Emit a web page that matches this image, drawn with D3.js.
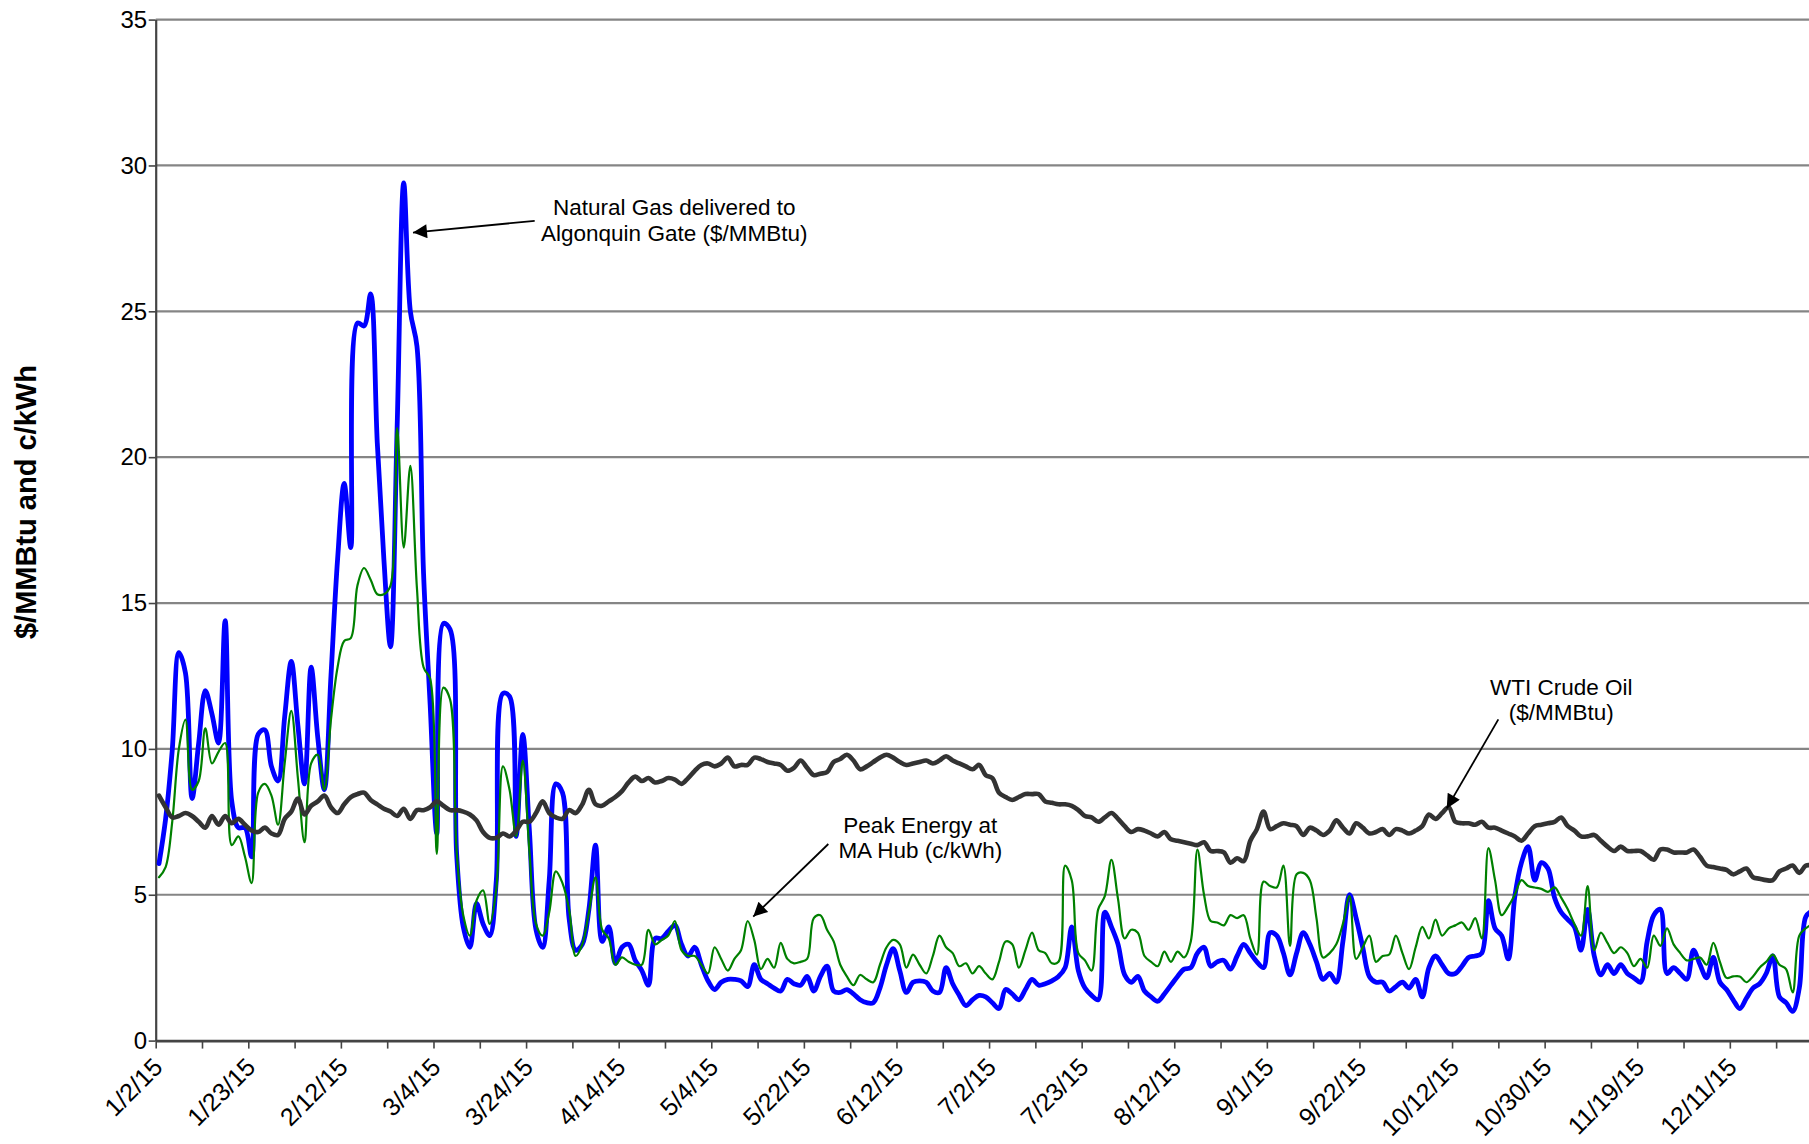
<!DOCTYPE html>
<html>
<head>
<meta charset="utf-8">
<script src="https://cdn.jsdelivr.net/npm/d3@7"></script>
<style>
  body { margin: 0; background: #fff; }
  svg { display: block; }
  text { font-family: "Liberation Sans", Arial, sans-serif; }
</style>
</head>
<body>
<div id="chart"></div>
<script>
  // Daily prices, 2015 (one value per trading day)
  const tickLabels = ['1/2/15', '1/23/15', '2/12/15', '3/4/15', '3/24/15', '4/14/15', '5/4/15', '5/22/15',
    '6/12/15', '7/2/15', '7/23/15', '8/12/15', '9/1/15', '9/22/15', '10/12/15', '10/30/15', '11/19/15', '12/11/15'];

  // Natural Gas delivered to Algonquin Gate ($/MMBtu)
  const gasPrices = [
    6.07, 7.6, 9.95, 13.3, 12.6, 8.3, 10.2, 12.0, 11.2, 10.2,
    14.4, 8.2, 7.3, 7.3, 6.3, 10.5, 10.65, 9.4, 8.9, 11.1,
    13.0, 10.8, 8.8, 12.8, 10.4, 8.6, 12.5, 16.5, 19.1, 16.9,
    24.6, 24.5, 25.6, 20.5, 16.5, 13.5, 21.0, 29.4, 25.0, 23.8,
    16.0, 11.5, 7.1, 14.3, 14.1, 6.4, 3.9, 3.2, 4.7, 4.0,
    3.6, 5.5, 11.9, 11.8, 7.0, 10.5, 7.2, 3.8, 3.2, 5.5,
    8.8, 8.5, 4.2, 3.1, 3.3, 4.5, 6.7, 3.4, 3.9, 2.65,
    3.2, 3.3, 2.75, 2.4, 1.9, 3.5, 3.5, 3.75, 3.95, 3.3,
    2.9, 3.2, 2.6, 2.05, 1.75, 2.0, 2.1, 2.1, 2.05, 1.85,
    2.6, 2.1, 1.95, 1.8, 1.7, 2.1, 1.95, 1.9, 2.2, 1.7,
    2.2, 2.55, 1.7, 1.65, 1.75, 1.6, 1.4, 1.3, 1.3, 1.8,
    2.6, 3.15, 2.4, 1.65, 2.0, 2.05, 2.0, 1.7, 1.65, 2.5,
    1.95, 1.55, 1.2, 1.4, 1.55, 1.5, 1.3, 1.1, 1.75, 1.6,
    1.4, 1.75, 2.1, 1.9, 1.95, 2.05, 2.2, 2.5, 3.9, 2.4,
    1.8, 1.55, 1.4, 4.4, 3.9, 3.3, 2.25, 2.0, 2.2, 1.7,
    1.5, 1.35, 1.6, 1.9, 2.2, 2.45, 2.5, 3.0, 3.2, 2.55,
    2.7, 2.75, 2.45, 2.9, 3.3, 3.0, 2.7, 2.5, 3.7, 3.6,
    3.0, 2.25, 3.0, 3.7, 3.3, 2.7, 2.1, 2.3, 2.0, 3.4,
    5.0, 4.2, 3.2, 2.2, 2.0, 2.0, 1.7, 1.85, 2.0, 1.8,
    2.1, 1.5, 2.5, 2.9, 2.6, 2.3, 2.3, 2.55, 2.85, 2.9,
    3.0, 4.8, 3.85, 3.6, 2.8, 4.95, 6.1, 6.65, 5.5, 6.1,
    5.9, 4.9, 4.4, 4.15, 3.9, 3.1, 4.5, 2.9, 2.25, 2.6,
    2.3, 2.6, 2.3, 2.15, 2.0, 3.4, 4.3, 4.5, 2.3, 2.5,
    2.3, 2.1, 3.1, 2.6, 2.15, 2.85, 2.0, 1.75, 1.4, 1.1,
    1.45, 1.8, 1.95, 2.3, 2.9, 1.5, 1.3, 1.0, 1.8, 4.25,
    4.45
  ];

  // Peak Energy at MA Hub (c/kWh)
  const peakEnergy = [
    5.6, 5.95, 7.5, 10.0, 11.0, 8.6, 8.9, 10.7, 9.5, 9.9,
    10.2, 6.7, 7.0, 6.3, 5.4, 8.5, 8.8, 8.4, 7.4, 9.5,
    11.3, 9.0, 6.8, 9.5, 9.8, 8.6, 11.0, 12.8, 13.7, 13.8,
    15.6, 16.2, 15.8, 15.3, 15.3, 15.6, 21.0, 16.9, 19.7, 15.5,
    12.8, 12.4, 6.4, 12.1, 11.7, 6.5, 4.3, 3.6, 4.8, 5.15,
    4.0, 5.2, 9.4, 8.6, 7.0, 9.6, 6.5, 4.0, 3.6, 4.4,
    5.8, 5.4, 4.5, 2.9, 3.3, 4.4, 5.6, 3.8, 3.5, 2.6,
    2.85, 2.7, 2.6, 2.6, 3.8, 3.3, 3.45, 3.6, 4.1, 3.1,
    2.9, 2.9, 2.6, 2.3, 3.2, 2.8, 2.4, 2.8, 3.1, 4.1,
    3.45, 2.45, 2.8, 2.5, 3.35, 2.8, 2.65, 2.7, 2.8, 4.2,
    4.3, 3.8, 3.4, 2.6, 2.2, 1.9, 2.25, 2.1, 2.0, 2.6,
    3.2, 3.45, 3.3, 2.5, 2.95, 2.6, 2.3, 2.9, 3.6, 3.2,
    3.0, 2.55, 2.65, 2.3, 2.55, 2.3, 2.1, 2.7, 3.4, 3.3,
    2.5, 3.1, 3.7, 3.1, 3.0, 2.65, 2.7, 6.0, 5.5, 3.0,
    2.75, 2.4, 4.5, 4.95, 6.2, 4.85, 3.5, 3.8, 3.7, 2.9,
    2.7, 2.55, 3.05, 2.7, 3.05, 2.85, 3.4, 6.55, 5.0, 4.1,
    4.05, 3.95, 4.3, 4.2, 4.3, 3.5, 2.95, 5.45, 5.3, 5.25,
    6.0, 3.25, 5.7, 5.75, 5.5, 4.2, 2.85, 3.0, 3.3, 4.0,
    4.95, 2.8, 3.2, 3.6, 2.7, 2.9, 2.95, 3.6, 3.0, 2.45,
    3.2, 3.9, 3.5, 4.15, 3.6, 3.85, 3.95, 4.05, 3.8, 4.2,
    3.5, 6.6, 5.5, 4.3, 4.6, 5.0, 5.5, 5.3, 5.25, 5.2,
    5.1, 5.25, 4.9, 4.5, 4.0, 3.6, 5.3, 3.1, 3.7, 3.35,
    3.0, 3.2, 3.0, 2.55, 2.8, 2.5, 3.6, 3.25, 3.85, 3.3,
    3.0, 2.75, 2.8, 2.85, 2.6, 3.35, 2.7, 2.15, 2.2, 2.2,
    2.0, 2.2, 2.5, 2.7, 2.95, 2.6, 2.45, 1.65, 3.6, 3.85,
    4.0
  ];

  // WTI Crude Oil ($/MMBtu)
  const wtiOil = [
    8.4, 8.0, 7.65, 7.7, 7.8, 7.7, 7.5, 7.3, 7.7, 7.4,
    7.7, 7.45, 7.6, 7.4, 7.2, 7.15, 7.3, 7.1, 7.05, 7.6,
    7.85, 8.3, 7.75, 8.05, 8.2, 8.4, 8.0, 7.8, 8.1, 8.35,
    8.45, 8.5, 8.25, 8.1, 7.95, 7.85, 7.7, 7.95, 7.6, 7.9,
    7.9, 8.0, 8.2, 8.05, 7.9, 7.9, 7.85, 7.75, 7.55, 7.15,
    6.95, 6.95, 7.1, 7.0, 7.2, 7.5, 7.5, 7.8, 8.2, 7.8,
    7.65, 7.6, 7.9, 7.8, 8.1, 8.6, 8.1, 8.05, 8.2, 8.35,
    8.55, 8.85, 9.05, 8.9, 9.0, 8.85, 8.9, 9.0, 8.95, 8.8,
    9.0, 9.25, 9.45, 9.5, 9.4, 9.5, 9.7, 9.4, 9.45, 9.45,
    9.7, 9.65, 9.55, 9.5, 9.45, 9.25, 9.35, 9.6, 9.35, 9.1,
    9.15, 9.2, 9.55, 9.65, 9.8, 9.6, 9.3, 9.4, 9.55, 9.7,
    9.8, 9.7, 9.55, 9.45, 9.5, 9.55, 9.6, 9.5, 9.6, 9.75,
    9.6, 9.5, 9.4, 9.3, 9.45, 9.1, 9.0, 8.5, 8.35, 8.25,
    8.35, 8.45, 8.45, 8.45, 8.2, 8.15, 8.1, 8.1, 8.05, 7.9,
    7.7, 7.65, 7.5, 7.65, 7.8, 7.6, 7.35, 7.15, 7.25, 7.2,
    7.1, 7.0, 7.15, 6.9, 6.85, 6.8, 6.75, 6.7, 6.8, 6.5,
    6.5, 6.45, 6.1, 6.25, 6.15, 6.85, 7.25, 7.85, 7.25, 7.35,
    7.45, 7.4, 7.35, 7.05, 7.3, 7.2, 7.05, 7.2, 7.55, 7.3,
    7.1, 7.45, 7.3, 7.1, 7.15, 7.25, 7.05, 7.25, 7.2, 7.1,
    7.2, 7.35, 7.75, 7.6, 7.8, 8.0, 7.5, 7.45, 7.45, 7.4,
    7.5, 7.3, 7.3, 7.2, 7.1, 7.0, 6.85, 7.1, 7.35, 7.4,
    7.45, 7.5, 7.65, 7.35, 7.2, 7.0, 7.0, 7.05, 6.85, 6.65,
    6.5, 6.65, 6.5, 6.5, 6.5, 6.35, 6.2, 6.55, 6.55, 6.45,
    6.45, 6.45, 6.55, 6.3, 6.0, 5.95, 5.9, 5.85, 5.7, 5.8,
    5.9, 5.6, 5.55, 5.5, 5.5, 5.8, 5.9, 6.0, 5.75, 6.0,
    6.0
  ];

  const width = 1809;
  const height = 1144;
  const plotLeft = 155.7;
  const plotTop = 19.6;
  const plotBottom = 1040.6;
  const catStep = 6.614;         // px per trading day
  const nCats = 251;

  const svg = d3.select('#chart').append('svg')
    .attr('width', width)
    .attr('height', height);

  // category axis: boundaries on integers, points in the middle of each category
  const x = d3.scaleLinear().domain([0, nCats]).range([plotLeft, plotLeft + nCats * catStep]);
  const y = d3.scaleLinear().domain([0, 35]).range([plotBottom, plotTop]);

  // gridlines
  svg.append('g')
    .selectAll('line')
    .data(d3.range(5, 36, 5))
    .enter().append('line')
    .attr('x1', plotLeft).attr('x2', width)
    .attr('y1', d => y(d)).attr('y2', d => y(d))
    .attr('stroke', '#858585')
    .attr('stroke-width', 2.2);

  // y axis
  const yAxis = svg.append('g')
    .attr('transform', `translate(${plotLeft},0)`)
    .call(d3.axisLeft(y).tickValues(d3.range(0, 36, 5)).tickSize(7).tickSizeOuter(0).tickPadding(1.5));
  yAxis.select('.domain').attr('stroke', '#444').attr('stroke-width', 2.2);
  yAxis.selectAll('.tick line').attr('stroke', '#444').attr('stroke-width', 1.6);
  yAxis.selectAll('.tick text').attr('font-size', 24).attr('fill', '#000')
    .style('font-family', '"Liberation Sans", Arial, sans-serif');

  // x axis
  const xAxis = svg.append('g')
    .attr('transform', `translate(0,${plotBottom})`)
    .call(d3.axisBottom(x)
      .tickValues(d3.range(0, nCats, 7))
      .tickSize(8)
      .tickSizeOuter(0)
      .tickFormat(d => (d % 14 === 0 && tickLabels[d / 14]) ? tickLabels[d / 14] : ''));
  xAxis.select('.domain').attr('stroke', '#444').attr('stroke-width', 2.6);
  xAxis.selectAll('.tick line').attr('stroke', '#444').attr('stroke-width', 1.6);
  xAxis.selectAll('.tick text')
    .attr('font-size', 25).attr('fill', '#000')
    .style('font-family', '"Liberation Sans", Arial, sans-serif')
    .attr('x', 0).attr('y', 0).attr('dy', 0)
    .attr('text-anchor', 'end')
    .attr('transform', 'translate(8,28) rotate(-45)');

  // y axis title
  svg.append('text')
    .attr('transform', `translate(26,${(plotTop + plotBottom) / 2 - 28}) rotate(-90)`)
    .attr('text-anchor', 'middle')
    .attr('dy', '0.35em')
    .attr('font-size', 29)
    .attr('font-weight', 'bold')
    .text('$/MMBtu and c/kWh');

  // series
  const line = d3.line()
    .x((d, i) => x(i + 0.5))
    .y(d => y(d))
    .curve(d3.curveCatmullRom.alpha(0.5));

  const series = [
    { name: 'gas', values: gasPrices, color: '#0000ff', width: 4.8 },
    { name: 'power', values: peakEnergy, color: '#008000', width: 2.2 },
    { name: 'oil', values: wtiOil, color: '#333333', width: 4.6 }
  ];

  svg.append('g')
    .selectAll('path')
    .data(series)
    .enter().append('path')
    .attr('d', d => line(d.values))
    .attr('fill', 'none')
    .attr('stroke', d => d.color)
    .attr('stroke-width', d => d.width)
    .attr('stroke-linejoin', 'round')
    .attr('stroke-linecap', 'round');

  // annotations (positions in category index / value units)
  svg.append('defs').append('marker')
    .attr('id', 'head')
    .attr('viewBox', '0 0 10 10')
    .attr('refX', 10).attr('refY', 5)
    .attr('markerUnits', 'userSpaceOnUse')
    .attr('markerWidth', 18).attr('markerHeight', 14)
    .attr('orient', 'auto')
    .append('path').attr('d', 'M0,0L10,5L0,10Z').attr('fill', '#000');

  const annotations = [
    { lines: ['Natural Gas delivered to', 'Algonquin Gate ($/MMBtu)'], tx: 78.4, ty: 28.3, from: [57.3, 28.1], to: [38.9, 27.7] },
    { lines: ['Peak Energy at', 'MA Hub (c/kWh)'], tx: 115.6, ty: 7.13, from: [101.7, 6.74], to: [90.35, 4.25] },
    { lines: ['WTI Crude Oil', '($/MMBtu)'], tx: 212.5, ty: 11.85, from: [203.0, 11.01], to: [195.2, 7.96] }
  ];

  const ann = svg.append('g').selectAll('g').data(annotations).enter().append('g');
  ann.append('line')
    .attr('x1', d => x(d.from[0])).attr('y1', d => y(d.from[1]))
    .attr('x2', d => x(d.to[0])).attr('y2', d => y(d.to[1]))
    .attr('stroke', '#000').attr('stroke-width', 1.8)
    .attr('marker-end', 'url(#head)');
  ann.each(function (d) {
    const t = d3.select(this).append('text')
      .attr('text-anchor', 'middle')
      .attr('font-size', 22.5)
      .attr('fill', '#000');
    d.lines.forEach((s, k) => {
      t.append('tspan').attr('x', x(d.tx)).attr('y', y(d.ty) + k * 25.5).text(s);
    });
  });
</script>
</body>
</html>
